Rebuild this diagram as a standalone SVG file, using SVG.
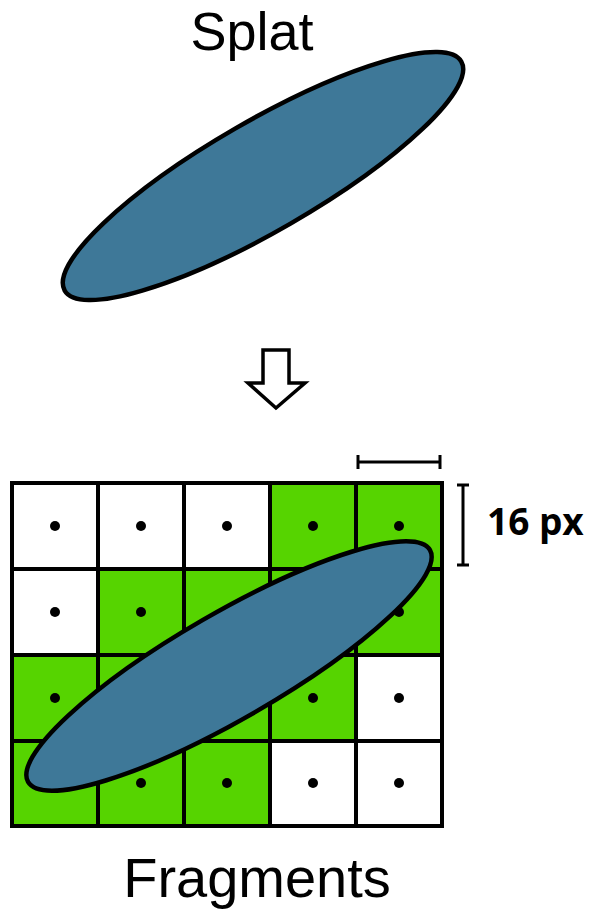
<svg xmlns="http://www.w3.org/2000/svg" width="595" height="911" viewBox="0 0 595 911">
<style>
.lbl{font-family:"Liberation Sans",Arial,sans-serif;fill:#000}
.lbl2{font-family:"Open Sans","Liberation Sans",sans-serif;fill:#000}
.cell{stroke:#000;stroke-width:4}
.w{fill:#fff}
.g{fill:#56D400}
.dot{fill:#000}
.splat{fill:#3E7898;stroke:#000;stroke-width:4.5}
.bar{stroke:#000;stroke-width:3;fill:none}
</style>
<rect width="595" height="911" fill="#fff"/>
<g id="splat-label"><text class="lbl" x="252" y="50" font-size="54" text-anchor="middle">Splat</text></g>
<g id="splat"><ellipse class="splat" cx="263" cy="176" rx="229" ry="55" transform="rotate(-30 263 176)"/></g>
<g id="connectors">
<path d="M263,350 H289 V383 H305 L276,408 L248,383 H263 Z" fill="#fff" stroke="#000" stroke-width="3.5" stroke-linejoin="miter"/>
</g>
<g id="grid">
<rect class="cell w" x="12" y="483" width="86" height="86"/>
<rect class="cell w" x="98" y="483" width="86" height="86"/>
<rect class="cell w" x="184" y="483" width="86" height="86"/>
<rect class="cell g" x="270" y="483" width="86" height="86"/>
<rect class="cell g" x="356" y="483" width="86" height="86"/>
<rect class="cell w" x="12" y="569" width="86" height="86"/>
<rect class="cell g" x="98" y="569" width="86" height="86"/>
<rect class="cell g" x="184" y="569" width="86" height="86"/>
<rect class="cell g" x="270" y="569" width="86" height="86"/>
<rect class="cell g" x="356" y="569" width="86" height="86"/>
<rect class="cell g" x="12" y="655" width="86" height="86"/>
<rect class="cell g" x="98" y="655" width="86" height="86"/>
<rect class="cell g" x="184" y="655" width="86" height="86"/>
<rect class="cell g" x="270" y="655" width="86" height="86"/>
<rect class="cell w" x="356" y="655" width="86" height="86"/>
<rect class="cell g" x="12" y="741" width="86" height="85"/>
<rect class="cell g" x="98" y="741" width="86" height="85"/>
<rect class="cell g" x="184" y="741" width="86" height="85"/>
<rect class="cell w" x="270" y="741" width="86" height="85"/>
<rect class="cell w" x="356" y="741" width="86" height="85"/>
<g class="dot">
<circle cx="55" cy="526" r="5"/><circle cx="141" cy="526" r="5"/><circle cx="227" cy="526" r="5"/><circle cx="313" cy="526" r="5"/><circle cx="399" cy="526" r="5"/>
<circle cx="55" cy="612" r="5"/><circle cx="141" cy="612" r="5"/><circle cx="227" cy="612" r="5"/><circle cx="313" cy="612" r="5"/><circle cx="399" cy="612" r="5"/>
<circle cx="55" cy="698" r="5"/><circle cx="141" cy="698" r="5"/><circle cx="227" cy="698" r="5"/><circle cx="313" cy="698" r="5"/><circle cx="399" cy="698" r="5"/>
<circle cx="55" cy="783" r="5"/><circle cx="141" cy="783" r="5"/><circle cx="227" cy="783" r="5"/><circle cx="313" cy="783" r="5"/><circle cx="399" cy="783" r="5"/>
</g>
</g>
<g id="fragment-splat"><ellipse class="splat" cx="229" cy="666" rx="232" ry="53" transform="rotate(-30 229 666)"/></g>
<g id="scale">
<path class="bar" d="M358,462 H440 M358,455 V469 M440,455 V469"/>
<path class="bar" d="M463,485 V565 M457,485 H469 M457,565 H469"/>
<text class="lbl2" x="487" y="535" font-size="37" font-weight="bold">16 px</text>
</g>
<g id="fragments-label"><text class="lbl" x="257" y="897" font-size="56" text-anchor="middle">Fragments</text></g>
</svg>
